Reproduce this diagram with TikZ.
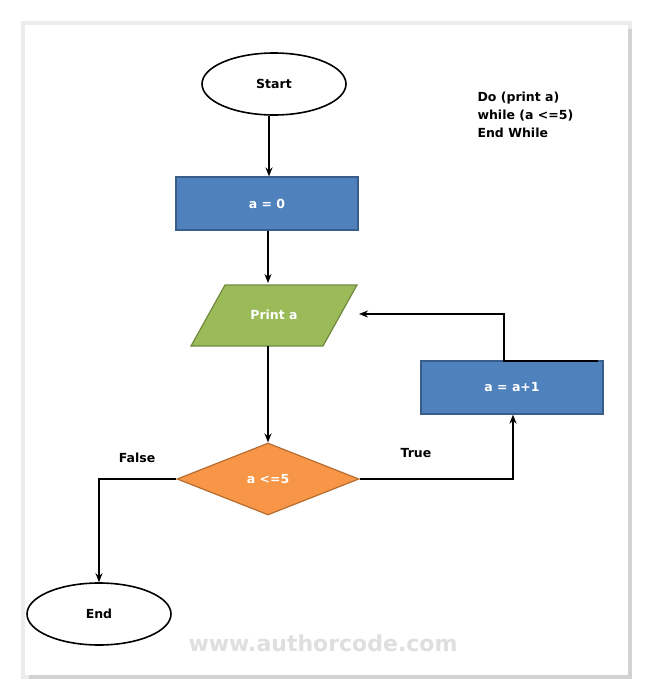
\documentclass[tikz,border=0pt]{standalone}
\usepackage{fontspec}
\setmainfont{DejaVu Sans}
\usetikzlibrary{shapes.geometric,arrows.meta}
\definecolor{bluef}{HTML}{4F81BD}\definecolor{blued}{HTML}{385D8A}
\definecolor{greenf}{HTML}{9BBB59}\definecolor{greend}{HTML}{71893F}
\definecolor{orangef}{HTML}{F79646}\definecolor{oranged}{HTML}{B66D31}
\begin{document}
\begin{tikzpicture}[x=1pt,y=-1pt,
  txt/.style={font=\fontsize{12.5}{15}\selectfont\bfseries},
  term/.style={ellipse,draw=black,line width=1.6pt,fill=white,minimum width=144pt,minimum height=62pt,txt},
  proc/.style={rectangle,draw=blued,line width=1.2pt,fill=bluef,minimum width=182pt,minimum height=53pt,text=white,txt},
  conn/.style={line width=1.6pt,-{Stealth[length=9pt,width=7pt]}}]
\useasboundingbox (0,0) rectangle (651,699);
\fill[gray!15] (21,21) rectangle (632,679);
\fill[gray!35] (29,29) rectangle (632,679);
\fill[white] (25,25) rectangle (628,675);
\node[term] (start) at (274,84) {Start};
\node[proc] (a0) at (267,203.5) {a = 0};
\fill[greenf,draw=greend,line width=1.2pt] (225,285) -- (357,285) -- (323,346) -- (191,346) -- cycle;
\node[txt,text=white] (print) at (274,315) {Print a};
\coordinate (pr) at (359,314);
\node[diamond,draw=oranged,line width=1.2pt,fill=orangef,minimum width=182pt,minimum height=72pt,aspect=2.5,inner sep=0pt,text=white,txt] (dec) at (268,479) {a <=5};
\node[proc] (inc) at (512,387.5) {a = a+1};
\node[term] (end) at (99,614) {End};
\draw[conn] (269,116) -- (a0.north -| 269,0);
\draw[conn] (268,231) -- (268,283);
\draw[conn] (268,346) -- (dec.north);
\draw[conn] (dec.east) -- (513,479) -- (inc.south -| 513,0);
\draw[conn] (598,361) -- (504,361) -- (504,314) -- (pr);
\draw[conn] (dec.west) -- (99,479) -- (end.north);
\node[txt] at (416,453) {True};
\node[txt] at (137,458) {False};
\node[align=left,anchor=north west,font=\fontsize{12.5}{18}\selectfont\bfseries] at (474,88) {Do (print a)\\while (a <=5)\\End While};
\node[font=\fontsize{22}{26}\selectfont\bfseries,text=gray!25] at (323,643) {www.authorcode.com};
\end{tikzpicture}
\end{document}
